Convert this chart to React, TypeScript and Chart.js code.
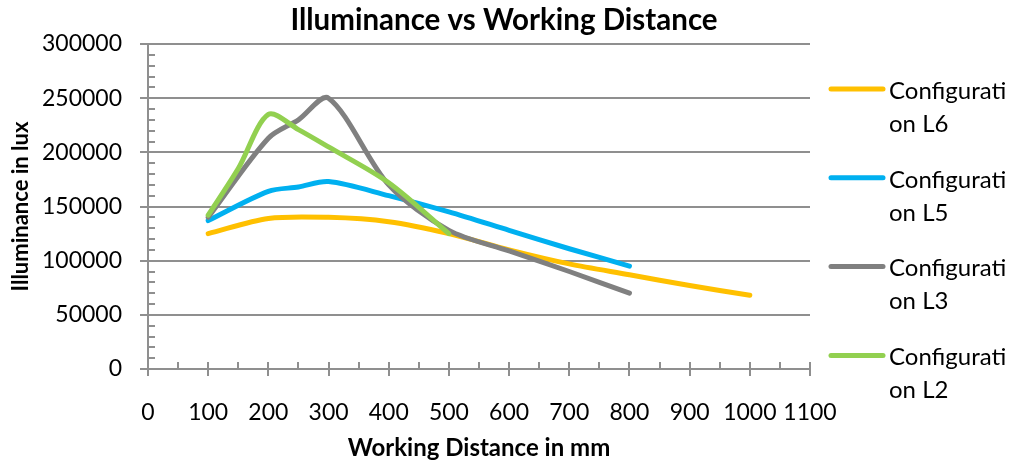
import React, { useEffect, useRef } from 'react';
import { Chart, registerables } from 'chart.js';

Chart.register(...registerables);

const chartTitle = 'Illuminance vs Working Distance';
const xAxisTitle = 'Working Distance in mm';
const yAxisTitle = 'Illuminance in lux';

const seriesLabels = ['Configuration L6', 'Configuration L5', 'Configuration L3', 'Configuration L2'];
const seriesColors = ['#FFC000', '#00B0F0', '#808080', '#92D050'];

const l6Distance = [100, 200, 300, 400, 500, 600, 700, 800, 900, 1000];
const l6Lux = [125000, 139000, 140000, 136000, 125000, 110000, 97000, 87000, 77000, 68000];

const l5Distance = [100, 200, 250, 300, 400, 500, 600, 700, 800];
const l5Lux = [137000, 164000, 168000, 173000, 160000, 145000, 128000, 111000, 95000];

const l3Distance = [100, 200, 250, 300, 400, 500, 600, 700, 800];
const l3Lux = [140000, 213000, 230000, 250000, 170000, 128000, 109000, 90000, 70000];

const l2Distance = [100, 150, 200, 250, 300, 400, 500];
const l2Lux = [142000, 185000, 235000, 221000, 205000, 172000, 125000];

const xMin = 0;
const xMax = 1100;
const xStep = 100;
const xMinorStep = 50;
const yMin = 0;
const yMax = 300000;
const yStep = 50000;
const yMinorStep = 10000;

const distances = [l6Distance, l5Distance, l3Distance, l2Distance];
const luxValues = [l6Lux, l5Lux, l3Lux, l2Lux];

const AXIS_COLOR = '#8f8f8f';
const FONT = 'Lato, "Open Sans", sans-serif';

const decorPlugin = {
  id: 'decor',
  afterDraw(chart: any) {
    const { ctx, chartArea, scales } = chart;
    const xs = scales.x;
    const ys = scales.y;
    ctx.save();
    // minor ticks (inside)
    ctx.strokeStyle = AXIS_COLOR;
    ctx.lineWidth = 2;
    ctx.beginPath();
    for (let v = yMin; v <= yMax; v += yMinorStep) {
      const py = Math.round(ys.getPixelForValue(v));
      ctx.moveTo(chartArea.left, py);
      ctx.lineTo(chartArea.left + 7, py);
    }
    for (let v = xMin; v <= xMax; v += xMinorStep) {
      const px = Math.round(xs.getPixelForValue(v));
      ctx.moveTo(px, chartArea.bottom);
      ctx.lineTo(px, chartArea.bottom - 7);
    }
    ctx.stroke();

    // title
    ctx.fillStyle = '#000';
    ctx.font = `bold 29.5px ${FONT}`;
    ctx.textAlign = 'center';
    ctx.textBaseline = 'middle';
    ctx.fillText(chartTitle, 504, 20);

    // legend
    ctx.font = `24px ${FONT}`;
    ctx.textAlign = 'left';
    chart.data.datasets.forEach((ds: any, i: number) => {
      const y0 = 89 + i * 88.8;
      ctx.strokeStyle = ds.borderColor;
      ctx.lineWidth = 5;
      ctx.lineCap = 'round';
      ctx.beginPath();
      ctx.moveTo(831, y0);
      ctx.lineTo(883, y0);
      ctx.stroke();
      const label: string = ds.label;
      const line1 = label.slice(0, 11);
      const line2 = label.slice(11);
      ctx.fillStyle = '#000';
      ctx.fillText(line1, 889, y0 + 2);
      ctx.fillText(line2, 889, y0 + 35);
    });
    ctx.restore();
  },
};

export default function App() {
  const ref = useRef<HTMLCanvasElement | null>(null);

  useEffect(() => {
    document.body.style.margin = '0';
    const canvas = ref.current;
    if (!canvas) return;
    const datasets = seriesLabels.map((label, i) => ({
      label,
      data: distances[i].map((d, j) => ({ x: d, y: luxValues[i][j] })),
      borderColor: seriesColors[i],
      backgroundColor: seriesColors[i],
      borderWidth: 5,
      borderCapStyle: 'round' as const,
      borderJoinStyle: 'round' as const,
      pointRadius: 0,
      tension: 0.3,
      fill: false,
      order: seriesLabels.length - i,
    }));

    const chart = new Chart(canvas, {
      type: 'line',
      data: { datasets },
      options: {
        responsive: false,
        animation: false,
        layout: { padding: { top: 44, right: 204, left: 0, bottom: 0 } },
        plugins: {
          legend: { display: false },
          title: { display: false },
          tooltip: { enabled: false },
        },
        scales: {
          x: {
            type: 'linear',
            min: xMin,
            max: xMax,
            afterFit: (scale: any) => {
              scale.height = 97;
            },
            ticks: {
              stepSize: xStep,
              autoSkip: false,
              maxRotation: 0,
              padding: 23,
              color: '#000',
              font: { family: FONT, size: 23 },
              callback: (v: any) => String(v),
            },
            grid: {
              drawOnChartArea: false,
              drawTicks: true,
              tickLength: 7,
              color: AXIS_COLOR,
              lineWidth: 2,
            },
            border: { display: true, color: AXIS_COLOR, width: 2 },
            title: {
              display: true,
              text: xAxisTitle,
              color: '#000',
              font: { family: FONT, size: 24, weight: 'bold' },
              padding: { top: 0, bottom: 3 },
            },
          },
          y: {
            type: 'linear',
            min: yMin,
            max: yMax,
            afterFit: (scale: any) => {
              scale.width = 148;
            },
            ticks: {
              stepSize: yStep,
              padding: 18,
              color: '#000',
              font: { family: FONT, size: 23 },
              callback: (v: any) => String(v),
            },
            grid: {
              drawOnChartArea: true,
              drawTicks: true,
              tickLength: 8,
              color: AXIS_COLOR,
              lineWidth: 2,
            },
            border: { display: true, color: AXIS_COLOR, width: 2 },
            title: {
              display: true,
              text: yAxisTitle,
              color: '#000',
              font: { family: FONT, size: 22, weight: 'bold' },
              padding: { top: 8, bottom: 0 },
            },
          },
        },
      },
      plugins: [decorPlugin],
    });
    return () => chart.destroy();
  }, []);

  return (
    <div style={{ width: 1014, height: 466 }}>
      <canvas ref={ref} width={1014} height={466} />
    </div>
  );
}
